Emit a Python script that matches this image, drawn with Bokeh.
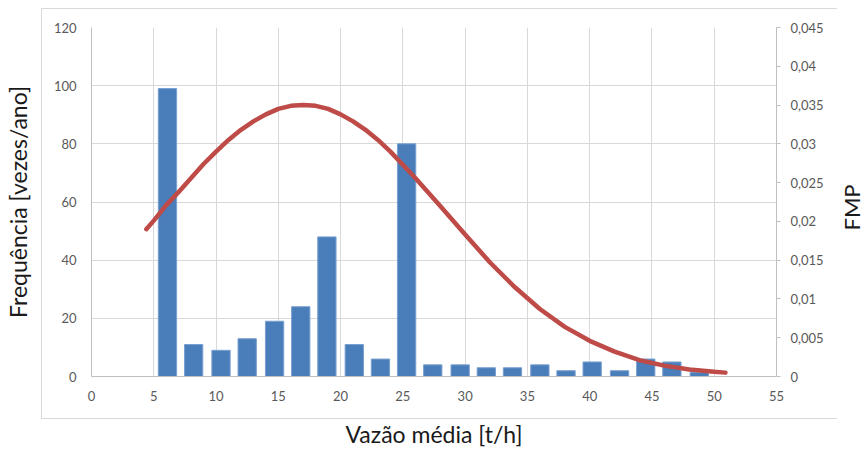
from bokeh.plotting import figure
from bokeh.layouts import row
from bokeh.models import (Range1d, LinearAxis, FixedTicker, CustomJSTickFormatter,
                          ColumnDataSource, InlineStyleSheet, Label)
from bokeh.embed import file_html
from bokeh.resources import INLINE
import math

# ---- data ----
bin_centers = [6.1, 8.2, 10.4, 12.5, 14.7, 16.8, 18.9, 21.1, 23.2, 25.3, 27.4,
               29.6, 31.7, 33.8, 36.0, 38.1, 40.2, 42.4, 44.5, 46.6, 48.8]
frequencia = [99, 11, 9, 13, 19, 24, 48, 11, 6, 80, 4,
              4, 3, 3, 4, 2, 5, 2, 6, 5, 1.5]

curve_x = [4.4, 5, 6, 7, 8, 9, 10, 11, 12, 13, 14, 15, 16, 17, 18, 19, 20, 21,
           22, 23, 24, 26, 28, 30, 32, 34, 36, 38, 40, 42, 44, 46, 48, 50, 50.9]
fmp = [0.0190, 0.0201, 0.0221, 0.0238, 0.0256, 0.0274, 0.0290, 0.0305, 0.0318,
       0.0329, 0.0338, 0.0345, 0.0349, 0.0350, 0.0349, 0.0345, 0.0338, 0.0329,
       0.0318, 0.0305, 0.0290, 0.0256, 0.0220, 0.0183, 0.0147, 0.0115, 0.0087,
       0.0064, 0.0046, 0.0032, 0.0021, 0.0014, 0.0009, 0.0006, 0.0005]

x_ticks = [0, 5, 10, 15, 20, 25, 30, 35, 40, 45, 50, 55]
y_ticks = [0, 20, 40, 60, 80, 100, 120]
fmp_ticks = [0, 0.005, 0.01, 0.015, 0.02, 0.025, 0.03, 0.035, 0.04, 0.045]

FONT = "Lato"
TICK_COLOR = "#595959"
TITLE_COLOR = "#1a1a1a"
GRID = "#d9d9d9"
AXIS = "#bfbfbf"

# light-grey chart-area border (Excel chart area)
border_css = InlineStyleSheet(css="""
:host { position: relative; }
:host::after {
  content: '';
  position: absolute;
  left: 41px; top: 8px; width: 799px; height: 411px;
  border: 1px solid #d9d9d9;
  box-sizing: border-box;
  pointer-events: none;
}
""")

p = figure(width=836, height=450, output_backend="svg", toolbar_location=None,
           x_range=Range1d(0, 55), y_range=Range1d(0, 120),
           min_border_left=90, min_border_right=60, min_border_top=27,
           min_border_bottom=72, background_fill_color="white",
           border_fill_color="white", stylesheets=[border_css])
p.outline_line_color = None
p.extra_y_ranges = {"fmp": Range1d(0, 0.045)}

src = ColumnDataSource(dict(x=bin_centers, top=frequencia))
p.vbar(x="x", top="top", width=1.47, bottom=0, source=src,
       fill_color="#4a7ebb", line_color="#7aa0d0", line_width=1)

p.line(curve_x, fmp, y_range_name="fmp", line_color="#BE4B48", line_width=4.5,
       line_cap="round", line_join="round")

# grid
p.xgrid.ticker = FixedTicker(ticks=x_ticks)
p.ygrid.ticker = FixedTicker(ticks=y_ticks)
for g in (p.xgrid[0], p.ygrid[0]):
    g.grid_line_color = GRID
    g.grid_line_width = 1

# bottom axis
xa = p.xaxis[0]
xa.ticker = FixedTicker(ticks=x_ticks)
xa.axis_label = "Vazão média [t/h]"
xa.major_tick_line_color = None
xa.minor_tick_line_color = None
xa.axis_line_color = AXIS
xa.major_label_standoff = 8
xa.axis_label_standoff = 16

# left axis
ya = p.yaxis[0]
ya.ticker = FixedTicker(ticks=y_ticks)
ya.axis_label = "Frequência [vezes/ano]"
ya.major_tick_line_color = None
ya.minor_tick_line_color = None
ya.axis_line_color = AXIS
ya.major_label_standoff = 9
ya.axis_label_standoff = 19

# right axis (its title is drawn in the narrow strip to the right)
ra = LinearAxis(y_range_name="fmp", ticker=FixedTicker(ticks=fmp_ticks))
ra.formatter = CustomJSTickFormatter(code="""
    if (Math.abs(tick) < 1e-12) return "0";
    var s = tick.toFixed(3).replace(/0+$/, '');
    return s.replace('.', ',');
""")
ra.axis_line_color = AXIS
ra.major_tick_line_color = AXIS
ra.major_tick_out = 4
ra.major_tick_in = 0
ra.minor_tick_line_color = None
ra.major_label_standoff = 10
p.add_layout(ra, "right")

for ax in (xa, ya, ra):
    ax.major_label_text_font = FONT
    ax.major_label_text_font_size = "13px"
    ax.major_label_text_color = TICK_COLOR
    ax.axis_label_text_font = FONT
    ax.axis_label_text_font_size = "23px"
    ax.axis_label_text_font_style = "normal"
    ax.axis_label_text_color = TITLE_COLOR

# narrow strip holding the right-axis title "FMP" (reads bottom-to-top)
strip = figure(width=30, height=450, output_backend="svg", toolbar_location=None,
               x_range=Range1d(0, 1), y_range=Range1d(0, 1),
               x_axis_location=None, y_axis_location=None,
               min_border=0, min_border_left=0, min_border_right=0,
               min_border_top=0, min_border_bottom=0,
               background_fill_color="white", border_fill_color="white")
strip.outline_line_color = None
strip.xgrid.visible = False
strip.ygrid.visible = False
strip.add_layout(Label(x=15, y=207, x_units="canvas", y_units="canvas",
                       text="FMP", angle=math.pi / 2,
                       text_font=FONT, text_font_size="22px",
                       text_color=TITLE_COLOR, text_align="center",
                       text_baseline="middle"))

layout = row(p, strip, spacing=0)
open("out.html", "w").write(file_html(layout, INLINE))
